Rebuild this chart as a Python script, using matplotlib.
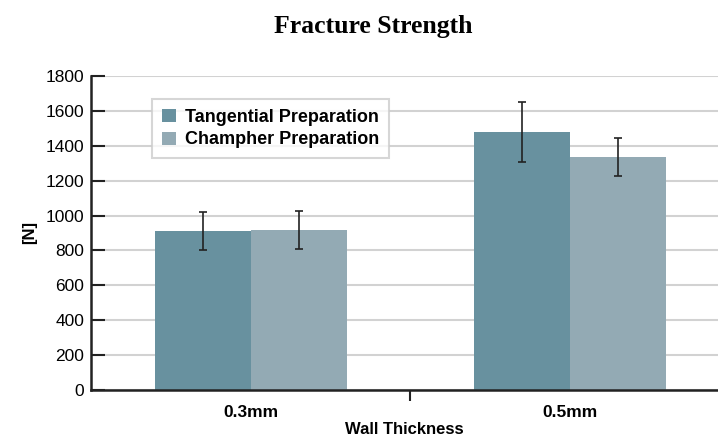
import numpy as np
import matplotlib.pyplot as plt

categories = ['0.3mm', '0.5mm']
series = ['Tangential Preparation', 'Champher Preparation']
tangential = [910, 1480]
champher = [917, 1336]
tangential_err = [110, 172]
champher_err = [110, 108]

colors = ['#68919f', '#93aab4']
sans = 'Liberation Sans'

fig = plt.figure(figsize=(7.18, 4.37), dpi=100)
ax = fig.add_axes([0.1267, 0.1076, 0.8733, 0.7185])

x = np.arange(len(categories))
w = 0.30
ekw = dict(ecolor='#222222', elinewidth=1.2, capsize=3, capthick=1.2)
ax.bar(x - w/2, tangential, w, color=colors[0], yerr=tangential_err,
       error_kw=ekw, label=series[0], zorder=2)
ax.bar(x + w/2, champher, w, color=colors[1], yerr=champher_err,
       error_kw=ekw, label=series[1], zorder=2)

ax.set_ylim(0, 1800)
ax.set_xlim(-0.5016, 1.464)
ax.set_yticks(np.arange(0, 1801, 200))
ax.yaxis.grid(True, color='#d2d2d2', lw=1.5, zorder=0)
ax.set_axisbelow(True)

ax.tick_params(axis='y', direction='in', length=10, width=1.5, color='#222222',
               labelsize=12.5, pad=5)
for t in ax.get_yticklabels():
    t.set_fontfamily(sans)

ax.set_xticks(x)
ax.set_xticklabels(categories, fontfamily=sans, fontweight='bold', fontsize=12.5)
ax.tick_params(axis='x', length=0, pad=11)
ax.set_xticks([0.5], minor=True)
ax.tick_params(axis='x', which='minor', direction='out', length=8, width=1.5,
               color='#222222')

for s in ['top', 'right']:
    ax.spines[s].set_visible(False)
for s in ['left', 'bottom']:
    ax.spines[s].set_linewidth(1.8)
    ax.spines[s].set_color('#222222')

ax.set_ylabel('[N]', fontfamily=sans, fontweight='bold', fontsize=12, labelpad=6)
ax.set_xlabel('Wall Thickness', fontfamily=sans, fontweight='bold', fontsize=12,
              labelpad=1)

fig.suptitle('Fracture Strength', fontfamily='Liberation Serif', fontweight='bold',
             fontsize=18.5, x=0.52, y=0.965)

leg = ax.legend(loc='upper left', bbox_to_anchor=(0.083, 0.955), frameon=True,
                fancybox=False, edgecolor='#cccccc', handlelength=0.75,
                handleheight=0.75, handletextpad=0.5, borderpad=0.55,
                labelspacing=0.3,
                prop=dict(family=sans, weight='bold', size=13))
leg.get_frame().set_linewidth(1.5)

fig.savefig('out.png', dpi=100)
